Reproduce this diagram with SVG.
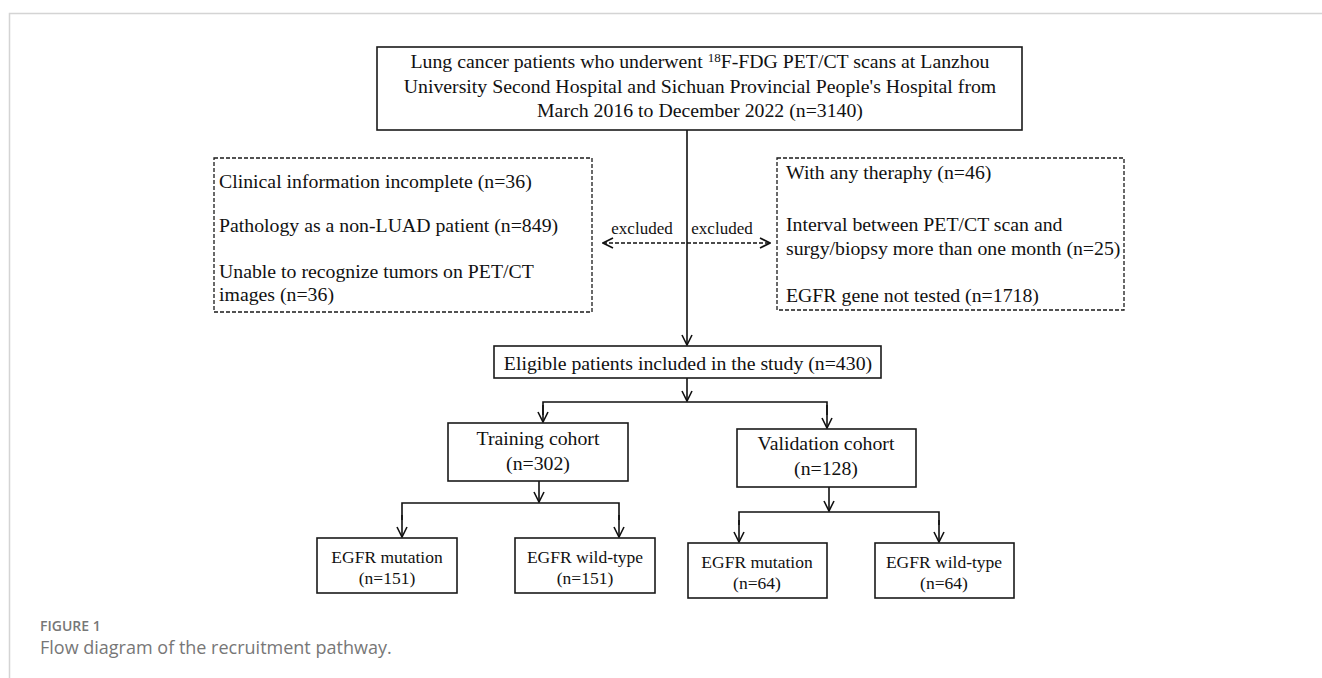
<svg xmlns="http://www.w3.org/2000/svg" width="1322" height="678" viewBox="0 0 1322 678">
<defs>
<marker id="ah" viewBox="0 0 12 12" refX="11" refY="6" markerWidth="12" markerHeight="12" markerUnits="userSpaceOnUse" orient="auto-start-reverse">
<path d="M1,1 L11,6 L1,11" fill="none" stroke="#111" stroke-width="1.6"/>
</marker>
<style>
.box{fill:#fff;stroke:#1a1a1a;stroke-width:1.6}
.dbox{fill:#fff;stroke:#1a1a1a;stroke-width:1.3;stroke-dasharray:4 2}
.t{font-family:"Liberation Serif","Times New Roman",serif;fill:#111;font-size:19.8px}
.tm{text-anchor:middle}
.s{font-size:17.5px}
.xs{font-size:17px}
.ln{fill:none;stroke:#111;stroke-width:1.6}
.dl{fill:none;stroke:#111;stroke-width:1.3;stroke-dasharray:4 2}
.cap{font-family:"Open Sans","Liberation Sans",sans-serif;fill:#777}
</style>
</defs>
<rect width="1322" height="678" fill="#fff"/>
<path d="M9.5,678 V13.5 H1322" fill="none" stroke="#d4d4d4" stroke-width="1.5"/>

<g id="connectors">
<line class="ln" x1="687" y1="130" x2="687" y2="345" marker-end="url(#ah)"/>
<line class="dl" x1="603" y1="243" x2="770" y2="243" marker-start="url(#ah)" marker-end="url(#ah)"/>
<text class="t xs tm" x="642" y="234">excluded</text>
<text class="t xs tm" x="722" y="234">excluded</text>
<line class="ln" x1="687" y1="378" x2="687" y2="401" marker-end="url(#ah)"/>
<polyline class="ln" points="543,415 543,402 827,402 827,415"/>
<line class="ln" x1="543" y1="405" x2="543" y2="422" marker-end="url(#ah)"/>
<line class="ln" x1="827" y1="405" x2="827" y2="428" marker-end="url(#ah)"/>
<line class="ln" x1="539" y1="481" x2="539" y2="502" marker-end="url(#ah)"/>
<polyline class="ln" points="402,520 402,503 619,503 619,520"/>
<line class="ln" x1="402" y1="515" x2="402" y2="537" marker-end="url(#ah)"/>
<line class="ln" x1="619" y1="515" x2="619" y2="537" marker-end="url(#ah)"/>
<line class="ln" x1="829" y1="487" x2="829" y2="511" marker-end="url(#ah)"/>
<polyline class="ln" points="739,525 739,512 939,512 939,525"/>
<line class="ln" x1="739" y1="520" x2="739" y2="542" marker-end="url(#ah)"/>
<line class="ln" x1="939" y1="520" x2="939" y2="542" marker-end="url(#ah)"/>
</g>

<g id="n-top">
<rect class="box" x="377" y="47" width="645" height="83"/>
<text class="t tm" x="700" y="68">Lung cancer patients who underwent <tspan font-size="13" dy="-6">18</tspan><tspan dy="6">F-FDG PET/CT scans at  Lanzhou</tspan></text>
<text class="t tm" x="700" y="93">University Second Hospital and Sichuan Provincial People's Hospital from</text>
<text class="t tm" x="700" y="117">March 2016 to December 2022 (n=3140)</text>
</g>

<g id="n-excl-left">
<rect class="dbox" x="214" y="158" width="378" height="154"/>
<text class="t" x="219" y="188">Clinical information incomplete (n=36)</text>
<text class="t" x="219" y="232">Pathology as a non-LUAD patient (n=849)</text>
<text class="t" x="219" y="278">Unable to recognize tumors on PET/CT</text>
<text class="t" x="219" y="301">images (n=36)</text>
</g>

<g id="n-excl-right">
<rect class="dbox" x="777" y="158" width="347" height="152"/>
<text class="t" x="786" y="179" font-size="19.6">With any theraphy (n=46)</text>
<text class="t" x="786" y="231" font-size="19.6">Interval between PET/CT scan and</text>
<text class="t" x="786" y="255" font-size="19.6">surgy/biopsy more than one month (n=25)</text>
<text class="t" x="786" y="302" font-size="19.6">EGFR gene not tested (n=1718)</text>
</g>

<g id="n-eligible">
<rect class="box" x="494" y="346" width="387" height="32"/>
<text class="t tm" x="688" y="370">Eligible patients included in the study (n=430)</text>
</g>

<g id="n-training">
<rect class="box" x="448" y="423" width="180" height="58"/>
<text class="t tm" x="538" y="445">Training cohort</text>
<text class="t tm" x="538" y="470">(n=302)</text>
</g>

<g id="n-validation">
<rect class="box" x="737" y="429" width="179" height="58"/>
<text class="t tm" x="826" y="450">Validation cohort</text>
<text class="t tm" x="826" y="475">(n=128)</text>
</g>

<g id="n-t-mut">
<rect class="box" x="317" y="538" width="140" height="55"/>
<text class="t s tm" x="387" y="563">EGFR mutation</text>
<text class="t s tm" x="387" y="584">(n=151)</text>
</g>

<g id="n-t-wild">
<rect class="box" x="515" y="538" width="140" height="55"/>
<text class="t s tm" x="585" y="563">EGFR wild-type</text>
<text class="t s tm" x="585" y="584">(n=151)</text>
</g>

<g id="n-v-mut">
<rect class="box" x="688" y="543" width="139" height="55"/>
<text class="t s tm" x="757" y="568">EGFR mutation</text>
<text class="t s tm" x="757" y="589">(n=64)</text>
</g>

<g id="n-v-wild">
<rect class="box" x="875" y="543" width="139" height="55"/>
<text class="t s tm" x="944" y="568">EGFR wild-type</text>
<text class="t s tm" x="944" y="589">(n=64)</text>
</g>

<g id="caption">
<text class="cap" x="40" y="631" font-size="14" font-weight="600">FIGURE 1</text>
<text class="cap" x="40" y="654" font-size="18" fill="#666">Flow diagram of the recruitment pathway.</text>
</g>
</svg>
